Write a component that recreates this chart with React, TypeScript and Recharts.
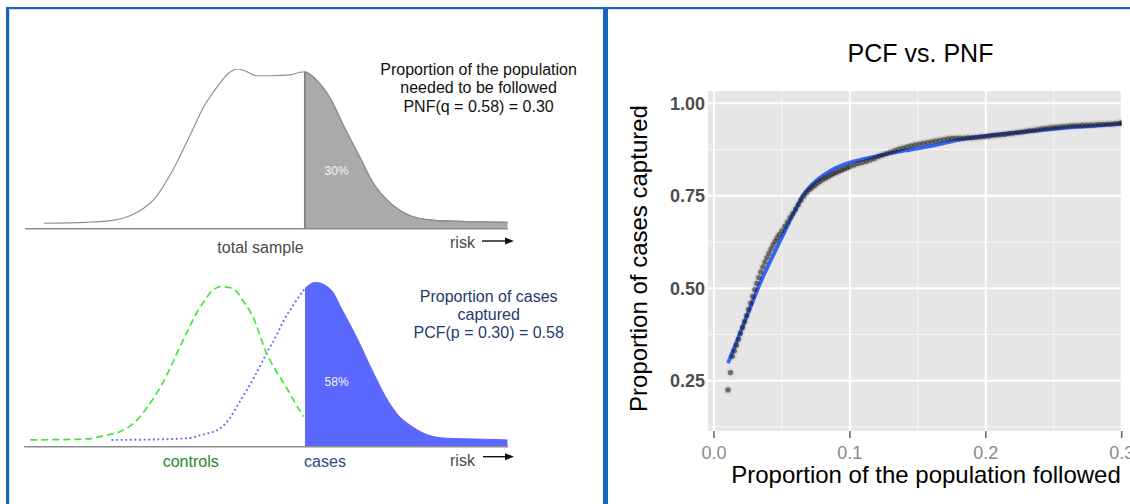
import React from "react";
import {
  ComposedChart,
  Line,
  Area,
  Scatter,
  XAxis,
  YAxis,
  CartesianGrid,
  ReferenceLine,
} from "recharts";

const FONT = '"Liberation Sans", Arial, Helvetica, sans-serif';
const BLUE = "#1767c2";

// ---- total sample risk density (upper left) ----
const totalRisk = [
  -0.12, 0.38, 0.69, 0.88, 1.04, 1.17, 1.36, 1.58, 1.75, 1.91, 2.04, 2.14, 2.24,
  2.35, 2.51, 2.74, 2.86, 2.915, 3.05, 3.21, 3.36, 3.56, 3.71, 3.89, 4.12, 4.39,
  4.8, 5.27,
];
const totalDensity = [
  0.034, 0.04, 0.054, 0.081, 0.128, 0.19, 0.348, 0.586, 0.773, 0.898, 0.978,
  0.998, 0.981, 0.956, 0.956, 0.961, 0.978, 0.981, 0.929, 0.815, 0.648, 0.44,
  0.284, 0.169, 0.086, 0.054, 0.044, 0.04,
];
const TOTAL_CUT = 2.915;
const TOTAL_CUT_HEIGHT = 0.981;
const riskTicks = [0, 1, 2, 3, 4, 5];

// ---- controls / cases risk densities (lower left) ----
const controlsRisk = [
  -0.07, 0.54, 0.76, 0.9, 1.05, 1.19, 1.3, 1.41, 1.52, 1.63, 1.72, 1.81, 1.9,
  1.99, 2.08, 2.15, 2.23, 2.35, 2.49, 2.6, 2.71, 2.8, 2.89,
];
const controlsDensity = [
  0.041, 0.047, 0.071, 0.091, 0.142, 0.233, 0.325, 0.435, 0.568, 0.697, 0.798,
  0.879, 0.944, 0.97, 0.965, 0.95, 0.889, 0.778, 0.566, 0.453, 0.354, 0.265,
  0.182,
];
const casesRisk = [
  0.81, 1.2, 1.63, 1.81, 1.99, 2.09, 2.2, 2.35, 2.49, 2.6, 2.67, 2.78, 2.907,
  3.02, 3.19, 3.31, 3.48, 3.65, 3.78, 3.9, 4.07, 4.24, 4.45, 4.87, 5.1,
];
const casesDensity = [
  0.041, 0.043, 0.051, 0.075, 0.112, 0.172, 0.273, 0.415, 0.566, 0.677, 0.758,
  0.859, 0.96, 0.996, 0.95, 0.828, 0.647, 0.445, 0.303, 0.202, 0.121, 0.071,
  0.051, 0.045, 0.041,
];
const CASES_CUT = 2.907;

// ---- PCF vs PNF (right) ----
const pnf = [
  0.0103, 0.0121, 0.0135, 0.015, 0.0165, 0.018, 0.0195, 0.021, 0.0225, 0.024,
  0.0255, 0.027, 0.0285, 0.03, 0.0315, 0.033, 0.0345, 0.036, 0.0375, 0.039,
  0.0405, 0.042, 0.0435, 0.045, 0.0465, 0.048, 0.05, 0.052, 0.054, 0.056, 0.058,
  0.06, 0.062, 0.064, 0.066, 0.068, 0.07, 0.072, 0.074, 0.076, 0.078, 0.08,
  0.082, 0.084, 0.086, 0.088, 0.09, 0.092, 0.094, 0.096, 0.098, 0.1, 0.103,
  0.106, 0.109, 0.112, 0.115, 0.118, 0.121, 0.124, 0.127, 0.13, 0.133, 0.136,
  0.139, 0.142, 0.145, 0.148, 0.151, 0.154, 0.157, 0.16, 0.163, 0.166, 0.169,
  0.172, 0.175, 0.178, 0.181, 0.184, 0.187, 0.19, 0.193, 0.196, 0.199, 0.202,
  0.205, 0.208, 0.211, 0.214, 0.217, 0.22, 0.223, 0.226, 0.229, 0.232, 0.235,
  0.238, 0.241, 0.244, 0.247, 0.25, 0.253, 0.256, 0.259, 0.262, 0.265, 0.268,
  0.271, 0.274, 0.277, 0.28, 0.283, 0.286, 0.289, 0.292, 0.295, 0.298, 0.3,
];
const pcf = [
  0.225, 0.272, 0.316, 0.331, 0.346, 0.362, 0.378, 0.394, 0.41, 0.426, 0.443,
  0.46, 0.478, 0.496, 0.513, 0.529, 0.544, 0.558, 0.571, 0.583, 0.594, 0.606,
  0.617, 0.627, 0.636, 0.645, 0.655, 0.667, 0.679, 0.691, 0.702, 0.714, 0.726,
  0.738, 0.749, 0.758, 0.766, 0.772, 0.778, 0.784, 0.789, 0.794, 0.798, 0.802,
  0.806, 0.81, 0.813, 0.817, 0.82, 0.823, 0.826, 0.829, 0.833, 0.837, 0.84,
  0.843, 0.847, 0.851, 0.856, 0.86, 0.864, 0.868, 0.872, 0.876, 0.879, 0.882,
  0.885, 0.888, 0.89, 0.892, 0.894, 0.896, 0.898, 0.9, 0.902, 0.904, 0.905,
  0.906, 0.906, 0.906, 0.907, 0.907, 0.908, 0.909, 0.91, 0.911, 0.913, 0.914,
  0.915, 0.916, 0.918, 0.919, 0.921, 0.922, 0.924, 0.926, 0.927, 0.929, 0.931,
  0.932, 0.934, 0.935, 0.936, 0.937, 0.938, 0.939, 0.94, 0.94, 0.941, 0.941,
  0.942, 0.942, 0.943, 0.943, 0.944, 0.944, 0.945, 0.946, 0.947,
];
const smoothPnf = [
  0.0103, 0.015, 0.02, 0.025, 0.03, 0.035, 0.04, 0.045, 0.05, 0.055, 0.06,
  0.065, 0.07, 0.075, 0.08, 0.085, 0.09, 0.095, 0.1, 0.11, 0.12, 0.13, 0.14,
  0.15, 0.16, 0.17, 0.18, 0.19, 0.2, 0.22, 0.24, 0.26, 0.28, 0.3,
];
const smoothPcf = [
  0.297, 0.34, 0.386, 0.432, 0.478, 0.522, 0.562, 0.6, 0.638, 0.676, 0.712,
  0.748, 0.772, 0.79, 0.804, 0.816, 0.826, 0.834, 0.84, 0.849, 0.857, 0.865,
  0.872, 0.878, 0.885, 0.893, 0.901, 0.907, 0.912, 0.92, 0.927, 0.934, 0.939,
  0.945,
];
const pnfTicks = [0, 0.1, 0.2, 0.3];
const pnfMinor = [0.05, 0.15, 0.25];
const pcfTicks = [0.25, 0.5, 0.75, 1.0];
const pcfMinor = [0.125, 0.375, 0.625, 0.875];

const totalTable = totalRisk.map((r, i) => ({
  r,
  total: totalDensity[i],
  tail: r >= TOTAL_CUT ? totalDensity[i] : null,
}));
const controlsTable = controlsRisk.map((r, i) => ({ r, v: controlsDensity[i] }));
const casesTable = casesRisk.map((r, i) => ({
  r,
  left: r <= CASES_CUT ? casesDensity[i] : null,
  tail: r >= CASES_CUT ? casesDensity[i] : null,
}));
const pointTable = pnf.map((x, i) => ({ x, y: pcf[i] }));
const smoothTable = smoothPnf.map((x, i) => ({ x, y: smoothPcf[i] }));

// semi-transparent point with a soft halo
const PointMark = (props: any) => (
  <g>
    <circle cx={props.cx} cy={props.cy} r={4.2} fill="#3a3a3a" fillOpacity={0.1} />
    <circle cx={props.cx} cy={props.cy} r={2.6} fill="#151515" fillOpacity={0.55} />
  </g>
);

const abs = (left: number, top: number): React.CSSProperties => ({
  position: "absolute",
  left,
  top,
});

export default function App() {
  return (
    <div
      style={{
        position: "absolute",
        left: 0,
        top: 0,
        width: 1130,
        height: 504,
        background: "#ffffff",
        overflow: "hidden",
        fontFamily: FONT,
      }}
    >
      {/* panel frames */}
      <div style={{ ...abs(6, 7), width: 1124, height: 2, background: BLUE }} />
      <div style={{ ...abs(9, 9), width: 594, height: 1, background: "#d6d6d6" }} />
      <div style={{ ...abs(9, 9), width: 1, height: 495, background: "#d6d6d6" }} />
      <div style={{ ...abs(608, 9), width: 522, height: 1, background: "#d6d6d6" }} />
      <div style={{ ...abs(6, 7), width: 3, height: 497, background: BLUE }} />
      <div style={{ ...abs(603, 7), width: 5, height: 497, background: BLUE }} />

      {/* total sample */}
      <div style={abs(10, 10)}>
        <ComposedChart
          width={510}
          height={240}
          data={totalTable}
          margin={{ top: 58.7, right: 12, bottom: 0, left: 15 }}
        >
          <XAxis
            dataKey="r"
            type="number"
            domain={[-0.34, 5.276]}
            allowDataOverflow
            ticks={riskTicks}
            interval={0}
            tick={false}
            tickSize={5}
            height={21.3}
            axisLine={{ stroke: "#8c8c8c", strokeWidth: 1.5 }}
            tickLine={{ stroke: "#8c8c8c", strokeWidth: 1.2 }}
          />
          <YAxis hide type="number" domain={[0, 1]} allowDataOverflow />
          <Area
            dataKey="tail"
            type="monotone"
            fill="#aaaaaa"
            fillOpacity={1}
            stroke="#8f8f8f"
            strokeWidth={1.2}
            connectNulls={false}
            isAnimationActive={false}
          />
          <Line
            dataKey="total"
            type="monotone"
            stroke="#8f8f8f"
            strokeWidth={1.2}
            dot={false}
            isAnimationActive={false}
          />
          <ReferenceLine
            segment={[
              { x: TOTAL_CUT, y: 0 },
              { x: TOTAL_CUT, y: TOTAL_CUT_HEIGHT },
            ]}
            stroke="#858585"
            strokeWidth={2}
          />
        </ComposedChart>
      </div>

      {/* controls and cases */}
      <div style={abs(10, 250)}>
        <ComposedChart
          width={510}
          height={215}
          data={casesTable}
          margin={{ top: 31.7, right: 12, bottom: 0, left: 14 }}
        >
          <XAxis
            dataKey="r"
            type="number"
            domain={[-0.138, 5.106]}
            allowDataOverflow
            ticks={riskTicks}
            interval={0}
            tick={false}
            tickSize={5}
            height={18.3}
            axisLine={{ stroke: "#8c8c8c", strokeWidth: 1.5 }}
            tickLine={{ stroke: "#8c8c8c", strokeWidth: 1.2 }}
          />
          <YAxis hide type="number" domain={[0, 1]} allowDataOverflow />
          <Area
            dataKey="tail"
            type="monotone"
            fill="#5a68ff"
            fillOpacity={1}
            stroke="#5a68ff"
            strokeWidth={1}
            connectNulls={false}
            isAnimationActive={false}
          />
          <Line
            dataKey="left"
            type="monotone"
            stroke="#5c66ff"
            strokeWidth={1.9}
            strokeDasharray="1.8 2.8"
            dot={false}
            isAnimationActive={false}
          />
          <Line
            data={controlsTable}
            dataKey="v"
            type="monotone"
            stroke="#3de83d"
            strokeWidth={1.7}
            strokeDasharray="7 4"
            dot={false}
            isAnimationActive={false}
          />
        </ComposedChart>
      </div>

      {/* PCF vs PNF */}
      <div style={abs(608, 10)}>
        <ComposedChart
          width={522}
          height={494}
          margin={{ top: 81, right: 8.3, bottom: 0, left: 0 }}
        >
          <CartesianGrid
            fill="#e6e6e6"
            stroke="#f7f7f7"
            strokeWidth={0.9}
            horizontalValues={pcfMinor}
            verticalValues={pnfMinor}
          />
          <CartesianGrid
            stroke="#ffffff"
            strokeWidth={1.9}
            horizontalValues={pcfTicks}
            verticalValues={pnfTicks}
          />
          <XAxis
            dataKey="x"
            type="number"
            domain={[-0.0044, 0.3]}
            allowDataOverflow
            ticks={pnfTicks}
            interval={0}
            tickFormatter={(v: number) => v.toFixed(1)}
            height={73}
            axisLine={false}
            tickSize={7}
            tickMargin={8}
            tickLine={{ stroke: "#6e6e6e", strokeWidth: 1.6 }}
            tick={{ fontSize: 18, fill: "#8a8a8a", fontFamily: FONT }}
          />
          <YAxis
            type="number"
            domain={[0.114, 1.0333]}
            allowDataOverflow
            ticks={pcfTicks}
            interval={0}
            tickFormatter={(v: number) => v.toFixed(2)}
            width={100}
            axisLine={false}
            tickLine={false}
            tickSize={0}
            tickMargin={3}
            tick={{ fontSize: 18, fill: "#4d4d4d", fontWeight: 700, fontFamily: FONT }}
          />
          <Scatter
            data={pointTable}
            dataKey="y"
            shape={PointMark}
            isAnimationActive={false}
          />
          <Line
            data={smoothTable}
            dataKey="y"
            type="monotone"
            stroke="#3366ff"
            strokeWidth={3.8}
            dot={false}
            isAnimationActive={false}
          />
        </ComposedChart>
      </div>

      {/* annotations */}
      <svg
        width={1130}
        height={504}
        style={{ position: "absolute", left: 0, top: 0, pointerEvents: "none" }}
        fontFamily={FONT}
      >
        <g fontSize={16} fill="#111111" textAnchor="middle">
          <text x={478.6} y={74.8}>Proportion of the population</text>
          <text x={478.6} y={93.3}>needed to be followed</text>
          <text x={478.6} y={111.8}>PNF(q = 0.58) = 0.30</text>
        </g>
        <text x={336.6} y={171} fontSize={12} fill="#f4f4f4" textAnchor="middle" dominantBaseline="central">
          30%
        </text>
        <text x={260.5} y={253.3} fontSize={16} fill="#4a4a4a" textAnchor="middle">
          total sample
        </text>
        <text x={450} y={248.4} fontSize={16} fill="#4a4a4a">
          risk
        </text>
        <line x1={482} y1={241} x2={507} y2={241} stroke="#111" strokeWidth={1.4} />
        <polygon points="514,241 505,237.5 505,244.5" fill="#111" />

        <g fontSize={16} fill="#1f3a6e" textAnchor="middle">
          <text x={488.7} y={301.5}>Proportion of cases</text>
          <text x={488.7} y={319.8}>captured</text>
          <text x={488.7} y={338}>PCF(p = 0.30) = 0.58</text>
        </g>
        <text x={336.6} y={381.7} fontSize={12} fill="#f4f4f4" textAnchor="middle" dominantBaseline="central">
          58%
        </text>
        <text x={190.7} y={467.3} fontSize={16} fill="#1e8a2a" textAnchor="middle">
          controls
        </text>
        <text x={325} y={467.3} fontSize={16} fill="#2c4a7c" textAnchor="middle">
          cases
        </text>
        <text x={450} y={465.7} fontSize={16} fill="#4a4a4a">
          risk
        </text>
        <line x1={483} y1={456.7} x2={507} y2={456.7} stroke="#111" strokeWidth={1.4} />
        <polygon points="514,456.7 505,453.2 505,460.2" fill="#111" />

        <text x={920.5} y={61.5} fontSize={25} fill="#000" textAnchor="middle">
          PCF vs. PNF
        </text>
        <text x={926} y={483.3} fontSize={24} fill="#000" textAnchor="middle">
          Proportion of the population followed
        </text>
        <text
          x={647}
          y={258.5}
          fontSize={24}
          fill="#000"
          textAnchor="middle"
          transform="rotate(-90 647 258.5)"
        >
          Proportion of cases captured
        </text>
      </svg>
    </div>
  );
}
